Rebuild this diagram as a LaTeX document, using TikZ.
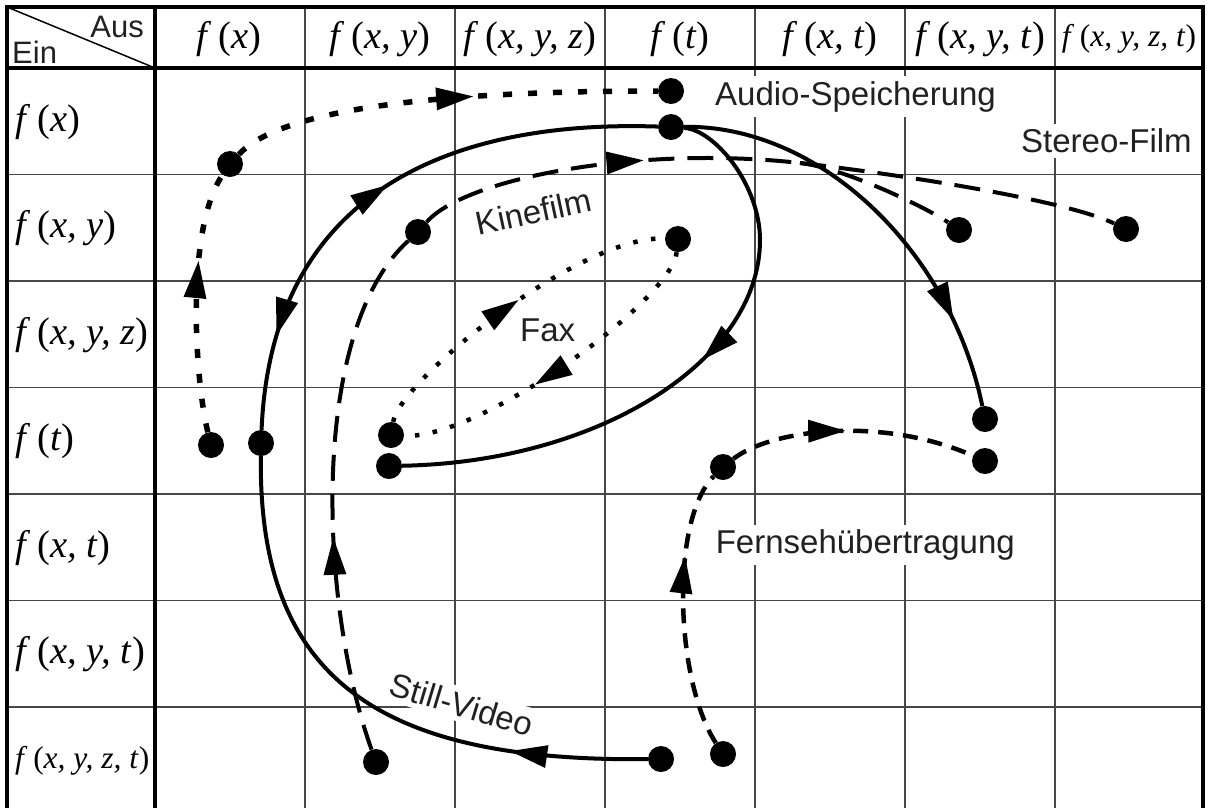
\documentclass[tikz,border=0pt]{standalone}
\usepackage{fontspec}
\setmainfont{Liberation Serif}
\newfontfamily\arialf{Liberation Sans}
\usetikzlibrary{arrows.meta,decorations.markings}
\newcommand{\fn}[1]{\textit{f}\kern0.18em(\textit{#1})}
\tikzset{
  tipA/.tip={Triangle[length=37pt,width=23pt,line width=0pt]},
  thinline/.style={line width=1.5pt, draw=black!72},
  thickline/.style={line width=4pt, draw=black},
  dot/.style={circle, fill=black, inner sep=0pt, minimum size=26pt},
  hdr/.style={font=\fontsize{38.5}{42}\selectfont, inner sep=0pt},
  hdrs/.style={font=\fontsize{31.5}{34}\selectfont, inner sep=0pt},
  lbl/.style={font=\arialf\fontsize{33}{38}\selectfont, text=black!87, fill=white, inner sep=5pt},
  corner/.style={font=\arialf\fontsize{31}{34}\selectfont, text=black!87, inner sep=0pt},
  audioline/.style={line width=5.5pt, dash pattern=on 9pt off 16pt},
  faxline/.style={line width=4.5pt, dash pattern=on 4.5pt off 13.5pt},
  kineline/.style={line width=4pt, dash pattern=on 26pt off 13pt},
  tvline/.style={line width=4.5pt, dash pattern=on 15pt off 10pt},
  solidline/.style={line width=4pt},
  fwd/.style={postaction={decorate}, decoration={markings, mark=at position #1 with {\arrow{tipA}}}},
}
\begin{document}
\begin{tikzpicture}[x=1pt,y=-1pt]
\useasboundingbox (0,0) rectangle (1209,807);
\clip (0,0) rectangle (1209,807);
% grid
\foreach \y in {174.5,281,387.5,494,600.5,707} \draw[thinline] (7,\y) -- (1203,\y);
\foreach \x in {305,455,605,755,905,1055} \draw[thinline] (\x,7) -- (\x,820);
\draw[thinline, draw=black] (7,7) -- (155,68);
\draw[thickline] (7,820) -- (7,7) -- (1203,7) -- (1203,820);
\draw[thickline] (7,68) -- (1203,68);
\draw[thickline] (155,7) -- (155,820);
% corner labels
\node[corner, anchor=base east] (aus) at (144,37) {Aus};
\node[corner, anchor=base west] (ein) at (12,63) {Ein};
% header
\node[hdr] (h1) at (229,39) {\fn{x}};
\node[hdr] (h2) at (380,39) {\fn{x, y}};
\node[hdr] (h3) at (530,39) {\fn{x, y, z}};
\node[hdr] (h4) at (680,39) {\fn{t}};
\node[hdr] (h5) at (830,39) {\fn{x, t}};
\node[hdr] (h6) at (980,39) {\fn{x, y, t}};
\node[hdrs] (h7) at (1129,39) {\fn{x, y, z, t}};
% row labels
\node[hdr, anchor=west] (r1) at (15,122) {\fn{x}};
\node[hdr, anchor=west] (r2) at (15,228.5) {\fn{x, y}};
\node[hdr, anchor=west] (r3) at (15,335) {\fn{x, y, z}};
\node[hdr, anchor=west] (r4) at (15,441.5) {\fn{t}};
\node[hdr, anchor=west] (r5) at (15,548) {\fn{x, t}};
\node[hdr, anchor=west] (r6) at (15,654.5) {\fn{x, y, t}};
\node[hdrs, anchor=west] (r7) at (15,761) {\fn{x, y, z, t}};
% text labels
\node[lbl, anchor=base west] (taudio) at (710,105) {Audio-Speicherung};
\node[lbl, anchor=base west] (tstereo) at (1016,152.7) {Stereo-Film};
\node[lbl, anchor=base west] (ttv) at (710.6,553.6) {Fernsehübertragung};
\node[lbl, anchor=base west, fill=none] (tfax) at (515,341.7) {Fax};
\node[lbl, anchor=base, rotate=12, fill=none] (tkine) at (536,223) {Kinefilm};
\node[lbl, anchor=base, rotate=-16.7] (tstill) at (458,716) {Still-Video};
% dots
\node[dot] (Abot) at (211,445) {};
\node[dot] (Atl) at (230,164) {};
\node[dot] (Atop) at (671,91) {};
\node[dot] (T) at (671,127) {};
\node[dot] (L) at (261,443) {};
\node[dot] (V) at (661,759) {};
\node[dot] (D) at (389,466) {};
\node[dot] (E) at (985,419) {};
\node[dot] (F1) at (678,239) {};
\node[dot] (F2) at (391,435) {};
\node[dot] (K0) at (376,762) {};
\node[dot] (K1) at (418,232) {};
\node[dot] (K2) at (959,230) {};
\node[dot] (K3) at (1126,229) {};
\node[dot] (TV0) at (723,754) {};
\node[dot] (TV1) at (723,467) {};
\node[dot] (TV2) at (985,461) {};
\coordinate (S) at (800,163);
\coordinate (R) at (760,240);
% Audio-Speicherung
\draw[audioline, fwd=172pt] (Abot) .. controls (195,380) and (185,230) .. (Atl);
\draw[audioline, fwd=245pt] (Atl) .. controls (280,110) and (430,91) .. (Atop);
% Fax
\draw[faxline, fwd=177pt] (F2) .. controls (400,380) and (580,235) .. (F1);
\draw[faxline, fwd=197pt] (F1) .. controls (672,300) and (480,440) .. (F2);
% Kinefilm / Stereo-Film
\draw[kineline, fwd=216pt] (K0) .. controls (318,600) and (310,330) .. (K1);
\draw[kineline, fwd=229pt] (K1) .. controls (465,178) and (640,145) .. (S);
\draw[kineline] (S) .. controls (845,168) and (929,209) .. (K2);
\draw[kineline] (S) .. controls (880,172) and (1060,198) .. (K3);
% Fernsehuebertragung
\draw[tvline, fwd=192pt] (TV0) .. controls (675,680) and (670,520) .. (TV1);
\draw[tvline, fwd=117pt] (TV1) .. controls (770,430) and (880,415) .. (TV2);
% solid
\draw[solidline, fwd=138pt] (V) .. controls (380,762) and (258,680) .. (L);
\draw[solidline, postaction={decorate}, decoration={markings,
   mark=at position 96pt with {\arrowreversed{tipA}},
   mark=at position 287pt with {\arrow{tipA}}}]
   (L) .. controls (272,185) and (460,120) .. (T);
\draw[solidline, fwd=281pt] (T) .. controls (715,130) and (760,185) .. (R) .. controls (760,360) and (600,462) .. (D);
\draw[solidline, fwd=349pt] (T) .. controls (820,125) and (950,250) .. (E);
\end{tikzpicture}
\end{document}
